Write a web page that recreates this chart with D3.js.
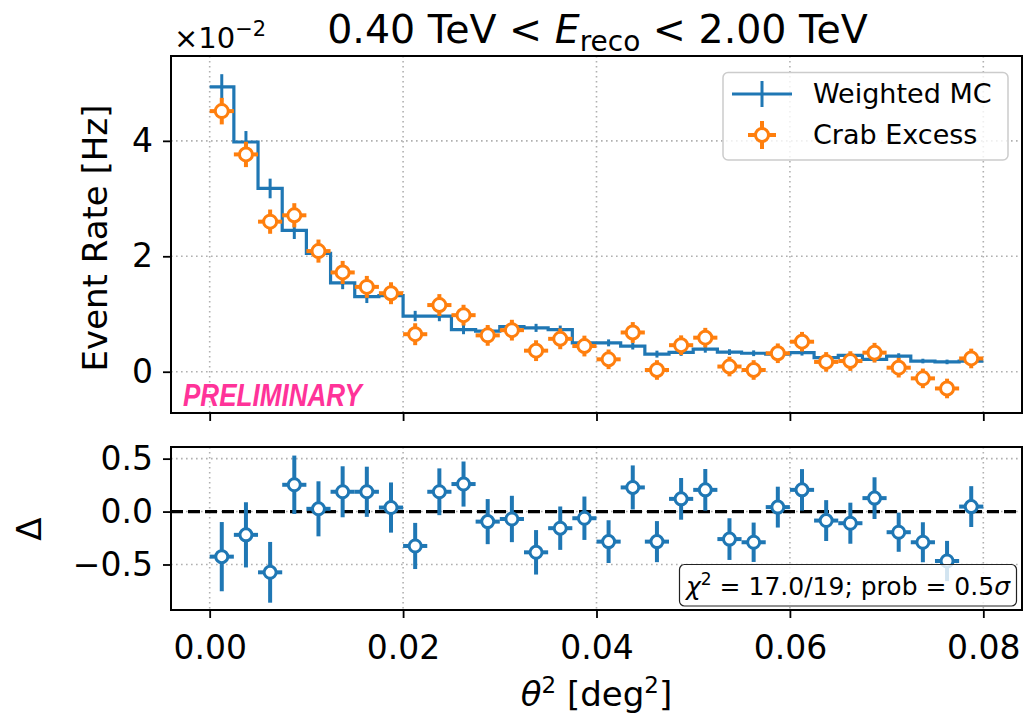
<!DOCTYPE html>
<html>
<head>
<meta charset="utf-8">
<script src="https://cdn.jsdelivr.net/npm/d3@7"></script>
<style>
  body { margin: 0; background: #fff; }
  svg text { font-family: "DejaVu Sans", sans-serif; fill: #000; }
</style>
</head>
<body>
<svg id="chart" width="1027" height="721"></svg>
<script>
// theta^2 bin centres [deg^2] and half bin width
const thetaSq = [0.00125, 0.00375, 0.00625, 0.00875, 0.01125, 0.01375, 0.01625, 0.01875,
                 0.02125, 0.02375, 0.02625, 0.02875, 0.03125, 0.03375, 0.03625, 0.03875,
                 0.04125, 0.04375, 0.04625, 0.04875, 0.05125, 0.05375, 0.05625, 0.05875,
                 0.06125, 0.06375, 0.06625, 0.06875, 0.07125, 0.07375, 0.07625, 0.07875];
const halfBin = 0.00125;

// Weighted MC event rate [1e-2 Hz]
const mcRate = [4.935, 3.98, 3.175, 2.45, 2.05, 1.54, 1.30, 1.32, 0.965, 0.965, 0.73, 0.705,
                0.78, 0.76, 0.73, 0.50, 0.50, 0.445, 0.305, 0.335, 0.39, 0.34, 0.32, 0.305,
                0.33, 0.245, 0.285, 0.215, 0.27, 0.185, 0.17, 0.185];
const mcErr = [0.22, 0.19, 0.17, 0.15, 0.13, 0.11, 0.11, 0.10, 0.09, 0.09, 0.08, 0.08,
               0.08, 0.07, 0.07, 0.07, 0.06, 0.06, 0.06, 0.06, 0.06, 0.05, 0.05, 0.05,
               0.05, 0.05, 0.05, 0.05, 0.05, 0.04, 0.04, 0.04];

// Crab excess event rate [1e-2 Hz]
const crabRate = [4.515, 3.765, 2.60, 2.71, 2.09, 1.72, 1.47, 1.36, 0.65, 1.155, 0.98, 0.63,
                  0.72, 0.365, 0.57, 0.445, 0.215, 0.68, 0.03, 0.46, 0.59, 0.09, 0.03, 0.32,
                  0.52, 0.17, 0.185, 0.33, 0.07, -0.115, -0.29, 0.23];
const crabErr = [0.23, 0.22, 0.21, 0.21, 0.20, 0.20, 0.19, 0.19, 0.19, 0.19, 0.18, 0.18,
                 0.18, 0.18, 0.18, 0.18, 0.17, 0.18, 0.17, 0.17, 0.17, 0.17, 0.17, 0.17,
                 0.17, 0.17, 0.17, 0.17, 0.17, 0.17, 0.17, 0.17];

// Residuals
const delta = [-0.426, -0.22, -0.574, 0.253, 0.026, 0.187, 0.187, 0.038, -0.325, 0.187, 0.26, -0.095,
               -0.07, -0.385, -0.157, -0.063, -0.284, 0.228, -0.284, 0.12, 0.205, -0.26, -0.29, 0.042,
               0.205, -0.085, -0.11, 0.127, -0.195, -0.29, -0.467, 0.047];
const deltaErr = [0.327, 0.308, 0.287, 0.276, 0.26, 0.241, 0.237, 0.237, 0.218, 0.221, 0.213, 0.213,
                  0.219, 0.21, 0.205, 0.205, 0.202, 0.208, 0.194, 0.197, 0.197, 0.197, 0.186, 0.193,
                  0.196, 0.193, 0.194, 0.197, 0.185, 0.189, 0.19, 0.193];

const xTicks = [0.00, 0.02, 0.04, 0.06, 0.08];
const yTopTicks = [0, 2, 4];
const yBotTicks = [-0.5, 0.0, 0.5];

const BLUE = "#1f77b4", ORANGE = "#ff7f0e", GRID = "#b0b0b0";

const svg = d3.select("#chart");
const L = 171, R = 1022;
const top1 = 56, bot1 = 413, top2 = 447, bot2 = 610;

const x = d3.scaleLinear().domain([-0.004, 0.084]).range([L, R]);
const yT = d3.scaleLinear().domain([-0.715, 5.47]).range([bot1, top1]);
const yB = d3.scaleLinear().domain([-0.93, 0.61]).range([bot2, top2]);

// ---------- grids ----------
function grid(yScale, yTicks, y0, y1) {
  const g = svg.append("g").attr("stroke", GRID).attr("stroke-width", 1.6)
    .attr("stroke-dasharray", "1.6,3.4");
  g.selectAll("line.v").data(xTicks).join("line")
    .attr("x1", d => x(d)).attr("x2", d => x(d)).attr("y1", y0).attr("y2", y1);
  g.selectAll("line.h").data(yTicks).join("line")
    .attr("x1", L).attr("x2", R).attr("y1", d => yScale(d)).attr("y2", d => yScale(d));
}
grid(yT, yTopTicks, top1, bot1);
grid(yB, yBotTicks, top2, bot2);

// ---------- top panel: MC step histogram ----------
const mcPts = [];
thetaSq.forEach((c, i) => {
  mcPts.push([c - halfBin, mcRate[i]]);
  mcPts.push([c + halfBin, mcRate[i]]);
});
svg.append("path")
  .attr("d", d3.line().x(d => x(d[0])).y(d => yT(d[1]))(mcPts))
  .attr("fill", "none").attr("stroke", BLUE).attr("stroke-width", 3.2);
svg.append("g").attr("stroke", BLUE).attr("stroke-width", 3)
  .selectAll("line").data(thetaSq).join("line")
  .attr("x1", d => x(d)).attr("x2", d => x(d))
  .attr("y1", (d, i) => yT(mcRate[i] - mcErr[i]))
  .attr("y2", (d, i) => yT(mcRate[i] + mcErr[i]));

// ---------- top panel: Crab excess ----------
const crab = svg.append("g");
crab.append("g").attr("stroke", ORANGE).attr("stroke-width", 4)
  .selectAll("line").data(thetaSq).join("line")
  .attr("x1", d => x(d)).attr("x2", d => x(d))
  .attr("y1", (d, i) => yT(crabRate[i] - crabErr[i]))
  .attr("y2", (d, i) => yT(crabRate[i] + crabErr[i]));
crab.append("g").attr("stroke", ORANGE).attr("stroke-width", 4)
  .selectAll("line").data(thetaSq).join("line")
  .attr("x1", d => x(d - halfBin)).attr("x2", d => x(d + halfBin))
  .attr("y1", (d, i) => yT(crabRate[i])).attr("y2", (d, i) => yT(crabRate[i]));
crab.append("g").selectAll("circle").data(thetaSq).join("circle")
  .attr("cx", d => x(d)).attr("cy", (d, i) => yT(crabRate[i])).attr("r", 6.5)
  .attr("fill", "#fff").attr("stroke", ORANGE).attr("stroke-width", 3);

// PRELIMINARY watermark
svg.append("text").attr("x", 183).attr("y", 406)
  .attr("textLength", 179).attr("lengthAdjust", "spacingAndGlyphs")
  .style("font-family", "'Liberation Sans', Arial, sans-serif")
  .style("font-weight", "bold").style("font-style", "italic")
  .style("font-size", "31px").style("fill", "#ff3399")
  .text("PRELIMINARY");

// ---------- bottom panel ----------
svg.append("line").attr("x1", L).attr("x2", R).attr("y1", yB(0)).attr("y2", yB(0))
  .attr("stroke", "#000").attr("stroke-width", 3.2).attr("stroke-dasharray", "12,5");
const res = svg.append("g");
res.append("g").attr("stroke", BLUE).attr("stroke-width", 4)
  .selectAll("line").data(thetaSq).join("line")
  .attr("x1", d => x(d)).attr("x2", d => x(d))
  .attr("y1", (d, i) => yB(delta[i] - deltaErr[i]))
  .attr("y2", (d, i) => yB(delta[i] + deltaErr[i]));
res.append("g").attr("stroke", BLUE).attr("stroke-width", 4)
  .selectAll("line").data(thetaSq).join("line")
  .attr("x1", d => x(d - halfBin)).attr("x2", d => x(d + halfBin))
  .attr("y1", (d, i) => yB(delta[i])).attr("y2", (d, i) => yB(delta[i]));
res.append("g").selectAll("circle").data(thetaSq).join("circle")
  .attr("cx", d => x(d)).attr("cy", (d, i) => yB(delta[i])).attr("r", 6)
  .attr("fill", "#fff").attr("stroke", BLUE).attr("stroke-width", 3);

// chi2 annotation box
svg.append("rect").attr("x", 679.5).attr("y", 564.5).attr("width", 337).attr("height", 41.5)
  .attr("rx", 5).attr("fill", "#fff").attr("fill-opacity", 0.8)
  .attr("stroke", "#222").attr("stroke-width", 1.2);
const chi = svg.append("text").attr("x", 848).attr("y", 595).attr("text-anchor", "middle")
  .style("font-size", "25px");
chi.append("tspan").style("font-style", "italic").text("χ");
chi.append("tspan").attr("dy", -10).style("font-size", "17px").text("2");
chi.append("tspan").attr("dy", 10).text(" = 17.0/19; prob = 0.5");
chi.append("tspan").style("font-style", "italic").text("σ");

// ---------- axes ----------
function styleAxis(g) {
  g.select(".domain").remove();
  g.selectAll(".tick line").attr("stroke", "#000").attr("stroke-width", 1.8);
  g.selectAll(".tick text").style("font-size", "33px").style("font-family", "'DejaVu Sans', sans-serif");
}
svg.append("g").attr("transform", `translate(${L},0)`)
  .call(d3.axisLeft(yT).tickValues(yTopTicks).tickSize(8).tickPadding(10).tickFormat(d3.format("d")))
  .call(styleAxis);
svg.append("g").attr("transform", `translate(${L},0)`)
  .call(d3.axisLeft(yB).tickValues(yBotTicks).tickSize(8).tickPadding(10)
    .tickFormat(d => d3.format(".1f")(d).replace("-", "−")))
  .call(styleAxis);
svg.append("g").attr("transform", `translate(0,${bot1})`)
  .call(d3.axisBottom(x).tickValues(xTicks).tickSize(8).tickFormat(""))
  .call(styleAxis);
svg.append("g").attr("transform", `translate(0,${bot2})`)
  .call(d3.axisBottom(x).tickValues(xTicks).tickSize(8).tickPadding(18).tickFormat(d3.format(".2f")))
  .call(styleAxis);

// frames
[[top1, bot1], [top2, bot2]].forEach(([a, b]) => {
  svg.append("rect").attr("x", L).attr("y", a).attr("width", R - L).attr("height", b - a)
    .attr("fill", "none").attr("stroke", "#000").attr("stroke-width", 2);
});

// ---------- legend ----------
const lg = svg.append("g");
lg.append("rect").attr("x", 723).attr("y", 72.5).attr("width", 285).attr("height", 87.5)
  .attr("rx", 5).attr("fill", "#fff").attr("fill-opacity", 0.8)
  .attr("stroke", "#cccccc").attr("stroke-width", 1.5);
lg.append("line").attr("x1", 732).attr("x2", 792).attr("y1", 94).attr("y2", 94)
  .attr("stroke", BLUE).attr("stroke-width", 3);
lg.append("line").attr("x1", 762).attr("x2", 762).attr("y1", 81).attr("y2", 107)
  .attr("stroke", BLUE).attr("stroke-width", 3);
lg.append("line").attr("x1", 748).attr("x2", 776).attr("y1", 135).attr("y2", 135)
  .attr("stroke", ORANGE).attr("stroke-width", 4);
lg.append("line").attr("x1", 762).attr("x2", 762).attr("y1", 121).attr("y2", 149)
  .attr("stroke", ORANGE).attr("stroke-width", 4);
lg.append("circle").attr("cx", 762).attr("cy", 135).attr("r", 6.5)
  .attr("fill", "#fff").attr("stroke", ORANGE).attr("stroke-width", 3);
lg.append("text").attr("x", 813).attr("y", 103).style("font-size", "27px").text("Weighted MC");
lg.append("text").attr("x", 813).attr("y", 144).style("font-size", "27px").text("Crab Excess");

// ---------- titles & labels ----------
const title = svg.append("text").attr("x", (L + R) / 2 + 1).attr("y", 43)
  .attr("text-anchor", "middle").style("font-size", "39.5px");
title.append("tspan").text("0.40 TeV < ");
title.append("tspan").style("font-style", "italic").text("E");
title.append("tspan").attr("dy", 8).style("font-size", "28px").text("reco");
title.append("tspan").attr("dy", -8).text(" < 2.00 TeV");

const off = svg.append("text").attr("x", 174).attr("y", 48).style("font-size", "29px");
off.append("tspan").text("×10");
off.append("tspan").attr("dy", -12).style("font-size", "21px").text("−2");

svg.append("text").attr("transform", "translate(107,238) rotate(-90)")
  .attr("text-anchor", "middle").style("font-size", "34px").text("Event Rate [Hz]");
svg.append("text").attr("transform", "translate(41,529) rotate(-90)")
  .attr("text-anchor", "middle").style("font-size", "34px").text("Δ");

const xl = svg.append("text").attr("x", (L + R) / 2).attr("y", 706)
  .attr("text-anchor", "middle").style("font-size", "34px");
xl.append("tspan").style("font-style", "italic").text("θ");
xl.append("tspan").attr("dy", -13).style("font-size", "23px").text("2");
xl.append("tspan").attr("dy", 13).text(" [deg");
xl.append("tspan").attr("dy", -13).style("font-size", "23px").text("2");
xl.append("tspan").attr("dy", 13).text("]");
</script>
</body>
</html>
